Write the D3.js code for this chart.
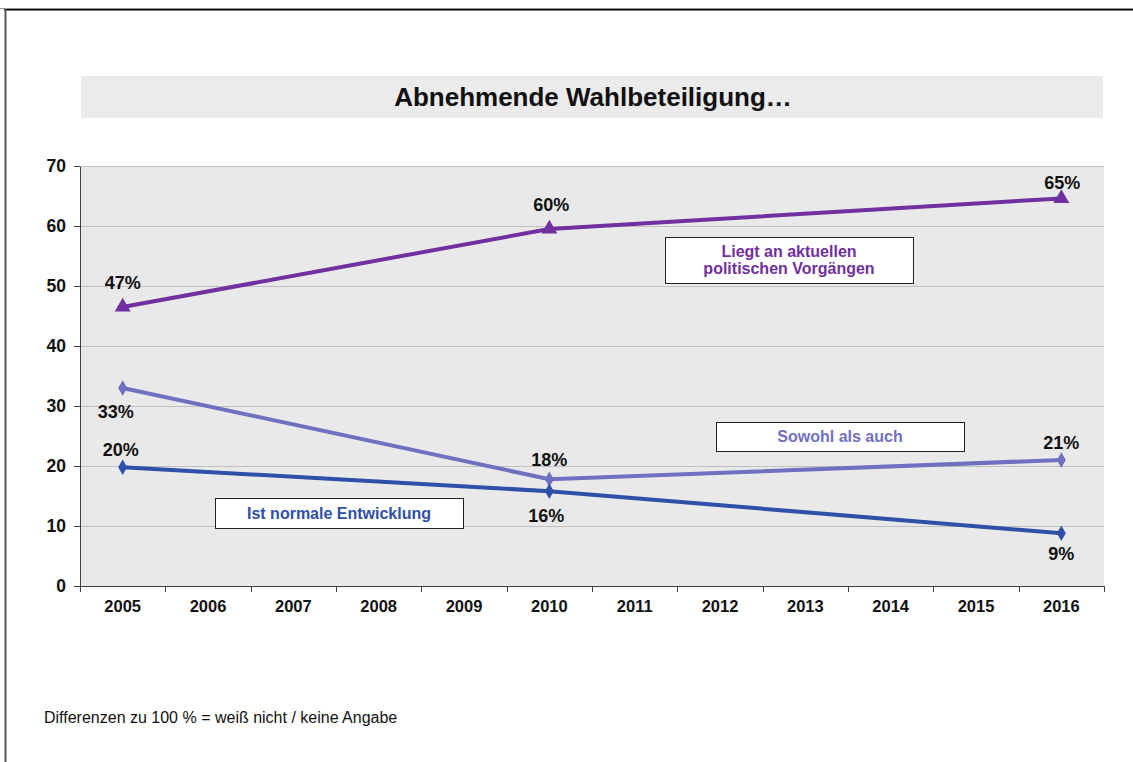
<!DOCTYPE html>
<html><head><meta charset="utf-8">
<script src="https://cdn.jsdelivr.net/npm/d3@7"></script>
<style>html,body{margin:0;padding:0;background:#fff;overflow:hidden;}svg{display:block;font-family:"Liberation Sans",Arial,sans-serif;}</style>
</head><body>
<svg id="c" width="1133" height="762"></svg>
<script>
const years = ["2005","2006","2007","2008","2009","2010","2011","2012","2013","2014","2015","2016"];
const yTicks = [0,10,20,30,40,50,60,70];
const pointYears = ["2005","2010","2016"];
const politischValues = [46.5, 59.5, 64.6];
const sowohlValues = [33.0, 17.8, 21.0];
const normalValues = [19.8, 15.8, 8.8];
const politischLabels = ["47%","60%","65%"];
const sowohlLabels = ["33%","18%","21%"];
const normalLabels = ["20%","16%","9%"];
const seriesNames = ["Liegt an aktuellen|politischen Vorgängen","Sowohl als auch","Ist normale Entwicklung"];
const titleText = "Abnehmende Wahlbeteiligung…";
const footnote = "Differenzen zu 100 % = weiß nicht / keine Angabe";

// label offsets (style): [dx, dy of text centre from the point]
const politischOff = [[0,-25],[2,-25],[1,-16]];
const sowohlOff = [[-7,23],[0,-20],[0,-18]];
const normalOff = [[-2,-18],[-3,24],[0,20]];

const svg = d3.select("#c");
const L = 80, R = 1104, T = 166, B = 586;
const x = d3.scaleBand().domain(years).range([L, R]);
const y = d3.scaleLinear().domain([0,70]).range([B, T]);

svg.append("rect").attr("x",0).attr("y",0).attr("width",1133).attr("height",762).attr("fill","#fff");

// frame
svg.append("rect").attr("x",0).attr("y",8).attr("width",1133).attr("height",1).attr("fill","#999");
svg.append("rect").attr("x",4).attr("y",9).attr("width",1129).attr("height",1.5).attr("fill","#000");
svg.append("rect").attr("x",4.5).attr("y",9).attr("width",2).attr("height",753).attr("fill","#555");

// title
svg.append("rect").attr("x",81).attr("y",76).attr("width",1022).attr("height",42).attr("fill","#ebebeb");
svg.append("text").attr("x",593).attr("y",106).attr("text-anchor","middle").attr("font-size",26).attr("font-weight","bold").attr("fill","#111").text(titleText);

// plot bg
svg.append("rect").attr("x",L).attr("y",T).attr("width",R-L).attr("height",B-T).attr("fill","#e9e9e9");
// grid
svg.append("g").selectAll("line").data(yTicks.filter(d=>d>0)).join("line")
  .attr("x1",L).attr("x2",R).attr("y1",d=>y(d)+0.5).attr("y2",d=>y(d)+0.5).attr("stroke","#c0c0c0").attr("stroke-width",1.2);

// y axis
const yAx = svg.append("g").attr("transform",`translate(${L},0)`)
  .call(d3.axisLeft(y).tickValues(yTicks).tickSizeInner(6).tickSizeOuter(0).tickPadding(8).tickFormat(d3.format("d")));
yAx.select(".domain").attr("stroke","#404040");
yAx.selectAll(".tick line").attr("stroke","#404040");
yAx.selectAll("text").attr("font-size",17.5).attr("font-weight","bold").attr("fill","#111").attr("font-family","Liberation Sans, Arial, sans-serif");

// x axis
const xAx = svg.append("g").attr("transform",`translate(0,${B})`)
  .call(d3.axisBottom(x).tickSize(0).tickPadding(14));
xAx.select(".domain").attr("stroke","#404040").attr("stroke-width",1.2);
xAx.selectAll("text").attr("font-size",16.5).attr("font-weight","bold").attr("fill","#111").attr("font-family","Liberation Sans, Arial, sans-serif");
const sepX = years.map(d=>x(d)).concat([x(years[years.length-1]) + x.bandwidth()]);
svg.append("g").selectAll("line").data(sepX).join("line")
  .attr("x1",d=>Math.round(d)+0.5).attr("x2",d=>Math.round(d)+0.5)
  .attr("y1",B).attr("y2",B+6).attr("stroke","#404040");

const cx = d => x(d) + x.bandwidth()/2;
const series = [
  {vals: politischValues, labels: politischLabels, off: politischOff, color:"#7030a0", sym:d3.symbolTriangle, size:110},
  {vals: sowohlValues, labels: sowohlLabels, off: sowohlOff, color:"#7070c0", sym:d3.symbolDiamond, size:70},
  {vals: normalValues, labels: normalLabels, off: normalOff, color:"#2f4fa8", sym:d3.symbolDiamond, size:70}
];
const line = d3.line().x(d=>cx(d.yr)).y(d=>y(d.v));
series.forEach(s=>{
  const pts = pointYears.map((yr,i)=>({yr, v:s.vals[i], lab:s.labels[i], off:s.off[i]}));
  svg.append("path").datum(pts).attr("d",line).attr("fill","none").attr("stroke",s.color).attr("stroke-width",4).attr("stroke-linejoin","round");
  svg.append("g").selectAll("path").data(pts).join("path")
    .attr("transform",d=>`translate(${cx(d.yr)},${y(d.v)})`)
    .attr("d",d3.symbol().type(s.sym).size(s.size)).attr("fill",s.color);
  svg.append("g").selectAll("text").data(pts).join("text")
    .attr("x",d=>cx(d.yr)+d.off[0]).attr("y",d=>y(d.v)+d.off[1]+6.5)
    .attr("text-anchor","middle").attr("font-size",18).attr("font-weight","bold").attr("fill","#111").text(d=>d.lab);
});

// series label boxes
const boxes = [
  {x:665, y:237, w:248, h:46, color:"#7030a0", name:seriesNames[0]},
  {x:716, y:422, w:248, h:29, color:"#7070c0", name:seriesNames[1]},
  {x:215, y:498, w:248, h:30, color:"#2f4fa8", name:seriesNames[2]}
];
boxes.forEach(b=>{
  svg.append("rect").attr("x",b.x+0.5).attr("y",b.y+0.5).attr("width",b.w).attr("height",b.h).attr("fill","#fff").attr("stroke","#222").attr("stroke-width",1);
  const lines = b.name.split("|");
  const lh = 17;
  const y0 = b.y + b.h/2 - (lines.length-1)*lh/2 + 5.5;
  lines.forEach((t,i)=>{
    svg.append("text").attr("x",b.x+b.w/2).attr("y",y0+i*lh).attr("text-anchor","middle")
      .attr("font-size",16).attr("font-weight","bold").attr("fill",b.color).text(t);
  });
});

svg.append("text").attr("x",44).attr("y",723).attr("font-size",16).attr("fill","#111").text(footnote);
</script>
</body></html>
